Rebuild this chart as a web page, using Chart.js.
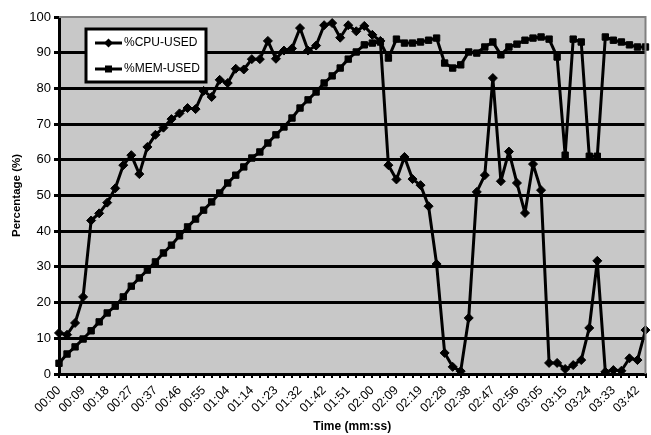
<!DOCTYPE html>
<html>
<head>
<meta charset="utf-8">
<script src="https://cdn.jsdelivr.net/npm/chart.js@4/dist/chart.umd.min.js"></script>
<style>
  html, body { margin: 0; padding: 0; background: #ffffff; }
  #wrap { width: 651px; height: 435px; }
</style>
</head>
<body>
<div id="wrap"><canvas id="c" width="651" height="435"></canvas></div>
<script>
const timeLabels = [
  "00:00","00:03","00:06","00:09","00:12","00:15","00:18","00:21","00:24","00:27",
  "00:30","00:33","00:37","00:40","00:43","00:46","00:49","00:52","00:55","00:58",
  "01:01","01:04","01:07","01:10","01:14","01:17","01:20","01:23","01:26","01:29",
  "01:32","01:35","01:38","01:42","01:44","01:47","01:51","01:54","01:57","02:00",
  "02:03","02:06","02:09","02:12","02:15","02:19","02:21","02:24","02:28","02:31",
  "02:34","02:38","02:40","02:43","02:47","02:49","02:52","02:56","02:58","03:01",
  "03:05","03:08","03:11","03:15","03:17","03:20","03:24","03:26","03:29","03:33",
  "03:35","03:38","03:42","03:45"
];

const cpuUsed = [
  11.5, 11, 14.3, 21.6, 43, 45, 48, 52, 58.5, 61.3,
  56, 63.6, 67, 69, 71.4, 73, 74.5, 74.2, 79.3, 77.6,
  82.4, 81.5, 85.5, 85.3, 88.2, 88.2, 93.3, 88.3, 90.6, 91.2,
  96.9, 90.6, 92, 97.7, 98.3, 94.2, 97.7, 96, 97.5, 95,
  93.3, 58.5, 54.5, 60.8, 54.6, 52.9, 47, 30.8, 5.9, 2,
  0.8, 15.7, 51, 55.7, 82.9, 54, 62.3, 53.5, 45.1, 58.8,
  51.5, 3.1, 3.1, 1.4, 2.5, 3.9, 12.9, 31.7, 0.6, 1.1,
  0.9, 4.4, 3.9, 12.3
];

const memUsed = [
  3, 5.6, 7.6, 9.8, 12.1, 14.6, 17.1, 19, 21.6, 24.6,
  26.9, 29.1, 31.4, 33.9, 36.1, 38.7, 41.2, 43.4, 45.9, 48.2,
  50.7, 53.5, 55.7, 58, 60.5, 62.2, 64.7, 67, 69.2, 71.7,
  74.5, 76.8, 79, 81.5, 83.5, 85.7, 88.2, 90.2, 92.2, 92.7,
  93, 88.5, 93.8, 92.7, 92.7, 93, 93.5, 94.1, 87.1, 85.7,
  86.6, 90.2, 89.9, 91.6, 93, 89.4, 91.6, 92.4, 93.5, 94.1,
  94.4, 93.8, 88.8, 61.3, 93.8, 93, 61, 61, 94.4, 93.5,
  93, 92.2, 91.6, 91.6
];

const seriesNames = ["%CPU-USED", "%MEM-USED"];
const yTicks = [0, 10, 20, 30, 40, 50, 60, 70, 80, 90, 100];

const FONT = "'Liberation Sans', Arial, sans-serif";

const plotBg = {
  id: 'plotBg',
  beforeDraw(chart) {
    const {ctx, chartArea: a} = chart;
    ctx.save();
    ctx.fillStyle = '#c8c8c8';
    ctx.fillRect(a.left, a.top, a.right - a.left, a.bottom - a.top);
    ctx.restore();
  },
  afterDatasetsDraw(chart) {
    const {ctx, chartArea: a} = chart;
    ctx.save();
    ctx.strokeStyle = '#808080';
    ctx.lineWidth = 2;
    ctx.beginPath();
    ctx.moveTo(a.left, a.top);
    ctx.lineTo(a.right, a.top);
    ctx.lineTo(a.right, a.bottom);
    ctx.stroke();
    ctx.restore();
  }
};

const boxLegend = {
  id: 'boxLegend',
  afterDraw(chart) {
    const {ctx} = chart;
    const x0 = 86, y0 = 29, w = 120, h = 53;
    ctx.save();
    ctx.fillStyle = '#ffffff';
    ctx.fillRect(x0, y0, w, h);
    ctx.strokeStyle = '#000000';
    ctx.lineWidth = 3;
    ctx.strokeRect(x0, y0, w, h);
    const rows = [43, 69];
    chart.data.datasets.forEach((ds, i) => {
      const y = rows[i];
      ctx.strokeStyle = '#000';
      ctx.lineWidth = 3;
      ctx.beginPath();
      ctx.moveTo(95, y);
      ctx.lineTo(122, y);
      ctx.stroke();
      ctx.fillStyle = '#000';
      if (ds.pointStyle === 'rectRot') {
        ctx.beginPath();
        ctx.moveTo(108.5, y - 4.5);
        ctx.lineTo(113, y);
        ctx.lineTo(108.5, y + 4.5);
        ctx.lineTo(104, y);
        ctx.closePath();
        ctx.fill();
      } else {
        ctx.fillRect(105, y - 3.5, 7, 7);
      }
      ctx.fillStyle = '#000';
      ctx.font = '12px ' + FONT;
      ctx.textBaseline = 'middle';
      ctx.textAlign = 'left';
      ctx.fillText(ds.label, 124, y);
    });
    ctx.restore();
  }
};

new Chart(document.getElementById('c'), {
  type: 'line',
  data: {
    labels: timeLabels,
    datasets: [
      {
        label: seriesNames[0],
        data: cpuUsed,
        borderColor: '#000',
        backgroundColor: '#000',
        borderWidth: 3,
        pointStyle: 'rectRot',
        pointRadius: 4.5,
        pointBackgroundColor: '#000',
        pointBorderColor: '#000',
        pointBorderWidth: 1,
        tension: 0,
        borderJoinStyle: 'round'
      },
      {
        label: seriesNames[1],
        data: memUsed,
        borderColor: '#000',
        backgroundColor: '#000',
        borderWidth: 3,
        pointStyle: 'rect',
        pointRadius: 4.5,
        pointBackgroundColor: '#000',
        pointBorderColor: '#000',
        pointBorderWidth: 1,
        tension: 0,
        borderJoinStyle: 'round'
      }
    ]
  },
  options: {
    responsive: false,
    animation: false,
    layout: { padding: { top: 17, right: 1, bottom: 0, left: 0 } },
    plugins: {
      legend: { display: false },
      tooltip: { enabled: false }
    },
    scales: {
      x: {
        type: 'category',
        offset: false,
        border: { display: true, color: '#000', width: 3 },
        grid: {
          drawOnChartArea: false,
          drawTicks: true,
          tickLength: 4,
          color: '#000',
          lineWidth: 2
        },
        ticks: {
          autoSkip: false,
          minRotation: 45,
          maxRotation: 45,
          padding: 5,
          color: '#000',
          font: { family: FONT, size: 12.5 },
          callback: function(val, idx) {
            return idx % 3 === 0 ? this.getLabelForValue(val) : '';
          }
        },
        title: {
          display: true,
          text: 'Time (mm:ss)',
          color: '#000',
          font: { family: FONT, size: 12, weight: 'bold' },
          padding: { top: 0, bottom: 1 }
        },
        afterFit(scale) {
          scale.height = 61;
          scale.paddingRight = 0;
          scale.paddingLeft = 0;
        }
      },
      y: {
        min: 0,
        max: 100,
        afterBuildTicks(scale) { scale.ticks = yTicks.map(v => ({ value: v })); },
        border: { display: true, color: '#000', width: 3 },
        grid: {
          drawTicks: true,
          tickLength: 5,
          tickColor: '#000',
          color: (c) => (c.tick && c.tick.value === 100) ? 'rgba(0,0,0,0)' : '#000',
          lineWidth: 3
        },
        ticks: {
          padding: 3,
          color: '#000',
          font: { family: FONT, size: 13 }
        },
        title: {
          display: true,
          text: 'Percentage (%)',
          color: '#000',
          font: { family: FONT, size: 11.5, weight: 'bold' },
          padding: { top: 10, bottom: 0 }
        },
        afterFit(scale) { scale.width = 59; }
      }
    }
  },
  plugins: [plotBg, boxLegend]
});
</script>
</body>
</html>
